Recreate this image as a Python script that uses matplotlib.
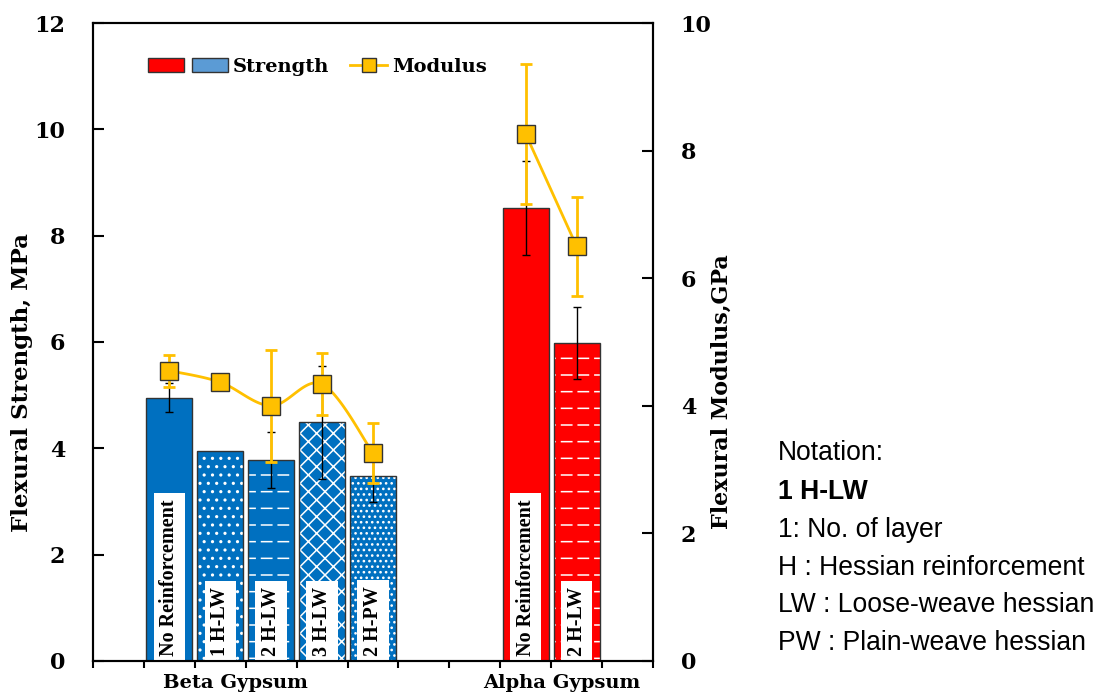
import matplotlib
matplotlib.use("Agg")
import matplotlib.pyplot as plt
import numpy as np
from matplotlib.patches import Patch
from matplotlib.lines import Line2D
from matplotlib.legend_handler import HandlerTuple

SERIF = "DejaVu Serif"

# bar slots on the category axis (slots 0, 6, 7, 10 are empty in the original)
slots = [1, 2, 3, 4, 5, 8, 9]
labels = ["No Reinforcement", "1 H-LW", "2 H-LW", "3 H-LW", "2 H-PW",
          "No Reinforcement", "2 H-LW"]
group = [0, 0, 0, 0, 0, 1, 1]
strength = [4.95, 3.95, 3.78, 4.49, 3.48, 8.52, 5.98]           # MPa
strength_err = [0.27, None, 0.52, 1.06, 0.49, 0.89, 0.67]
modulus = [4.55, 4.37, 4.00, 4.34, 3.26, 8.26, 6.50]             # GPa
modulus_err = [0.25, None, 0.88, 0.48, 0.47, 1.09, 0.78]
group_names = ["Beta Gypsum", "Alpha Gypsum"]
group_pos = [2.3, 8.7]
notation = ["Notation:", "1 H-LW", "1: No. of layer", "H : Hessian reinforcement",
            "LW : Loose-weave hessian", "PW : Plain-weave hessian"]

BLUE = "#0070C0"
RED = "#FF0000"
GOLD = "#FFC000"
colors = [BLUE] * 5 + [RED] * 2
hatches = [None, "..", "-", "xx", "...", None, "-"]
dashed = [False, False, True, False, False, False, True]


def smooth_curve(x, y, yscale=1.25, n=30):
    """Excel-like smoothed line: cubic Bezier through points (Catmull-Rom tangents)."""
    p = np.column_stack([x, np.asarray(y) * yscale]).astype(float)
    if len(p) < 3:
        return np.asarray(x, float), np.asarray(y, float)
    ext = np.vstack([p[0], p, p[-1]])
    out = []
    t = np.linspace(0, 1, n)[:, None]
    for i in range(len(p) - 1):
        p0, p1, p2, p3 = ext[i], ext[i + 1], ext[i + 2], ext[i + 3]
        c1 = p1 + (p2 - p0) / 6
        c2 = p2 - (p3 - p1) / 6
        seg = ((1 - t) ** 3) * p1 + 3 * ((1 - t) ** 2) * t * c1 + 3 * (1 - t) * t ** 2 * c2 + t ** 3 * p2
        out.append(seg if i == 0 else seg[1:])
    out = np.vstack(out)
    return out[:, 0], out[:, 1] / yscale


plt.rcParams["hatch.linewidth"] = 1.1
fig = plt.figure(figsize=(11, 6.97), dpi=100)
ax = fig.add_axes([0.0845, 0.0517, 0.5091, 0.9153])
ax2 = ax.twinx()

# bars: hatch layer in white, then outline
ax.bar(slots, strength, width=0.9, color=colors, edgecolor="white", linewidth=0,
       hatch=hatches, zorder=2)
# break the white horizontal hatch lines into dashes with wide vertical strokes of the fill colour
breakers = ax.bar(slots, strength, width=0.9, fill=False, edgecolor=colors, linewidth=0,
                  hatch=["|" if d else None for d in dashed], zorder=2.5)
for b in breakers:
    if hasattr(b, "set_hatch_linewidth"):
        b.set_hatch_linewidth(3.5)
ax.bar(slots, strength, width=0.9, fill=False, edgecolor="#333333", linewidth=1.0, zorder=3)

sx = [s for s, e in zip(slots, strength_err) if e is not None]
sy = [v for v, e in zip(strength, strength_err) if e is not None]
se = [e for e in strength_err if e is not None]
ax.errorbar(sx, sy, yerr=se, fmt="none", ecolor="black", elinewidth=1.0,
            capsize=3, capthick=1.0, zorder=4)

for s, lab in zip(slots, labels):
    ax.text(s, 0.1, lab, rotation=90, ha="center", va="bottom", fontsize=14.5,
            fontweight="bold", family="Liberation Serif", zorder=5,
            bbox=dict(facecolor="white", edgecolor="none", pad=4))

ax.set_xlim(-0.5, 10.5)
ax.set_ylim(0, 12)
ax.set_yticks(np.arange(0, 13, 2))
ax.set_xticks(np.arange(-0.5, 11, 1))
ax.set_xticklabels([])
ax.tick_params(axis="x", direction="out", length=5, width=1.5)
ax.tick_params(axis="y", direction="in", length=8, width=1.5, pad=20, labelsize=16)
for lab in ax.get_yticklabels():
    lab.set_family(SERIF)
    lab.set_fontweight("bold")
for sp in ax.spines.values():
    sp.set_linewidth(1.5)

for name, pos in zip(group_names, group_pos):
    ax.text(pos, -0.25, name, ha="center", va="top", fontsize=14, fontweight="bold",
            family=SERIF)

# modulus on the secondary axis, one smoothed line per gypsum type
for g in (0, 1):
    gx = [s for s, k in zip(slots, group) if k == g]
    gy = [v for v, k in zip(modulus, group) if k == g]
    cx, cy = smooth_curve(gx, gy)
    ax2.plot(cx, cy, color=GOLD, linewidth=2, zorder=3)
mx = [s for s, e in zip(slots, modulus_err) if e is not None]
my = [v for v, e in zip(modulus, modulus_err) if e is not None]
me = [e for e in modulus_err if e is not None]
ax2.errorbar(mx, my, yerr=me, fmt="none", ecolor=GOLD, elinewidth=2,
             capsize=4, capthick=2, zorder=4)
ax2.plot(slots, modulus, linestyle="none", marker="s", markersize=13,
         markerfacecolor=GOLD, markeredgecolor="#333333", markeredgewidth=1.0, zorder=5)
ax2.set_ylim(0, 10)
ax2.set_yticks(np.arange(0, 11, 2))
ax2.tick_params(axis="y", direction="in", length=8, width=1.5, pad=20, labelsize=16)
for lab in ax2.get_yticklabels():
    lab.set_family(SERIF)
    lab.set_fontweight("bold")
for sp in ax2.spines.values():
    sp.set_linewidth(1.5)

# legend
leg_font = dict(family=SERIF, weight="bold", size=14)
h_strength = (Patch(facecolor=RED, edgecolor="#333333"), Patch(facecolor="#5B9BD5", edgecolor="#333333"))
leg1 = ax2.legend([h_strength], ["Strength"], handler_map={tuple: HandlerTuple(ndivide=None, pad=0.4)},
                  loc="center left", bbox_to_anchor=(0.085, 0.931), frameon=False, prop=leg_font,
                  handlelength=4.1, handleheight=0.7, handletextpad=0.25, borderaxespad=0)
ax2.add_artist(leg1)
h_mod = Line2D([], [], color=GOLD, linewidth=2, marker="s", markersize=10,
               markerfacecolor=GOLD, markeredgecolor="#333333")
ax2.legend([h_mod], ["Modulus"], loc="center left", bbox_to_anchor=(0.446, 0.931),
           frameon=False, prop=leg_font, handlelength=1.9, handletextpad=0.25, borderaxespad=0)

fig.text(0.020, 1 - 383 / 697, "Flexural Strength, MPa", rotation=90, ha="center", va="center",
         fontsize=16.5, fontweight="bold", family=SERIF)
fig.text(0.656, 1 - 392 / 697, "Flexural Modulus,GPa", rotation=90, ha="center", va="center",
         fontsize=16, fontweight="bold", family=SERIF)

line_y = [453, 492, 530, 568, 605, 643]
for i, (txt, yy) in enumerate(zip(notation, line_y)):
    fig.text(778 / 1100, 1 - yy / 697, txt, ha="left", va="center", fontsize=19.1,
             family="Liberation Sans", fontweight="bold" if i == 1 else "normal")

fig.savefig("out.png", dpi=100)
